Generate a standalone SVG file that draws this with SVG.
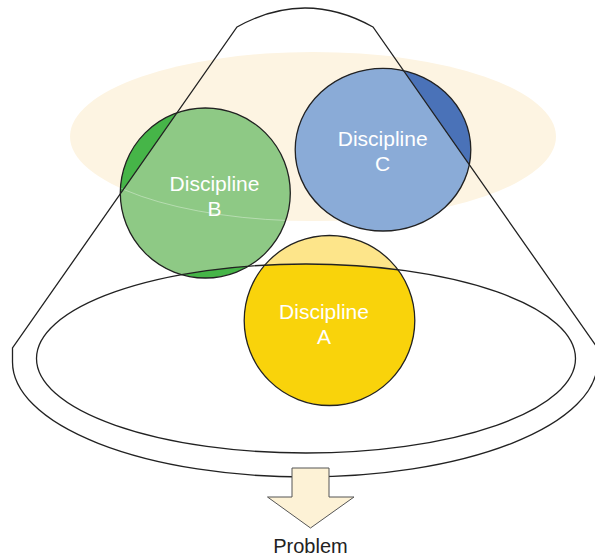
<svg xmlns="http://www.w3.org/2000/svg" width="595" height="557" viewBox="0 0 595 557">
<style>
.outline{fill:none;stroke:#222;stroke-width:1.3}
.lbl{font-family:"Liberation Sans",Arial,sans-serif;font-size:21px;fill:#fff;text-anchor:middle}
.cap{font-family:"Liberation Sans",Arial,sans-serif;font-size:20px;fill:#222;text-anchor:middle}
</style>
<defs>
<clipPath id="ring">
<path clip-rule="evenodd" d="M237,27 Q305,-11 373,27 L597.5,348 L597.5,362 A292.5,115 0 0 1 12.5,362 L12.5,348 Z M36.5,358.5 A269.5,94.5 0 1 0 575.5,358.5 A269.5,94.5 0 1 0 36.5,358.5 Z"/>
</clipPath>
<clipPath id="clipB"><circle cx="205.3" cy="193" r="85"/></clipPath>
</defs>
<rect width="595" height="557" fill="#fff"/>
<ellipse id="field" cx="313" cy="136.5" rx="243" ry="84.5" fill="#fdf4e2"/>
<g id="discipline-b">
<circle cx="205.3" cy="193" r="85" fill="#46b548"/>
<circle cx="205.3" cy="193" r="85" fill="#8ec985" clip-path="url(#ring)"/>
<ellipse cx="313" cy="136.5" rx="243" ry="84.5" fill="none" stroke="#fff" stroke-opacity="0.45" stroke-width="0.8" clip-path="url(#clipB)"/>
<circle class="outline" cx="205.3" cy="193" r="85"/>
<text class="lbl" x="214.5" y="191">Discipline</text>
<text class="lbl" x="214.5" y="215.5">B</text>
</g>
<g id="discipline-c">
<ellipse cx="383" cy="149.7" rx="87.8" ry="81.3" fill="#4a72b8"/>
<ellipse cx="383" cy="149.7" rx="87.8" ry="81.3" fill="#8aabd7" clip-path="url(#ring)"/>
<ellipse class="outline" cx="383" cy="149.7" rx="87.8" ry="81.3"/>
<text class="lbl" x="382.7" y="145.5">Discipline</text>
<text class="lbl" x="382.7" y="170.5">C</text>
</g>
<g id="discipline-a">
<ellipse cx="329.5" cy="320.5" rx="85.3" ry="85" fill="#f9d30b"/>
<ellipse cx="329.5" cy="320.5" rx="85.3" ry="85" fill="#fde58a" clip-path="url(#ring)"/>
<ellipse class="outline" cx="329.5" cy="320.5" rx="85.3" ry="85"/>
<text class="lbl" x="324" y="318.5">Discipline</text>
<text class="lbl" x="324" y="344">A</text>
</g>
<g id="cone">
<path class="outline" d="M237,27 Q305,-11 373,27 L597.5,348 L597.5,362 A292.5,115 0 0 1 12.5,362 L12.5,348 Z"/>
<ellipse class="outline" cx="306" cy="358.5" rx="269.5" ry="94.5"/>
</g>
<g id="connectors">
<path d="M292,468 H329 V497 H354 L310.5,528 L267.5,497 H292 Z" fill="#fdf2d6" stroke="#555" stroke-width="1"/>
</g>
<g id="problem">
<text class="cap" x="310.5" y="553">Problem</text>
</g>
</svg>
